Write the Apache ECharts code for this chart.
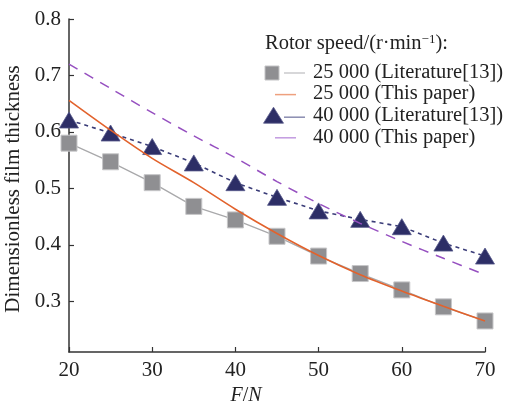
<!DOCTYPE html>
<html>
<head>
<meta charset="utf-8">
<script src="https://cdn.jsdelivr.net/npm/echarts@6/dist/echarts.min.js"></script>
<style>
  html, body { margin: 0; padding: 0; background: #fff; overflow: hidden; }
  #chart { width: 512px; height: 403px; }
</style>
</head>
<body>
<div id="chart"></div>
<script>
// Applied load F (N)
const loads = [20, 25, 30, 35, 40, 45, 50, 55, 60, 65, 70];

// Dimensionless film thickness for each rotor speed
const lit25000 = [0.580, 0.547, 0.510, 0.468, 0.444, 0.415, 0.380, 0.349, 0.320, 0.290, 0.265];
const paper25000 = [0.656, 0.603, 0.553, 0.510, 0.463, 0.420, 0.381, 0.347, 0.318, 0.291, 0.265];
const lit40000 = [0.621, 0.598, 0.574, 0.545, 0.510, 0.484, 0.460, 0.445, 0.432, 0.403, 0.380];
const paper40000 = [0.720, 0.677, 0.634, 0.593, 0.554, 0.512, 0.473, 0.438, 0.406, 0.376, 0.347];

// axis ticks
const xTicks = [20, 30, 40, 50, 60, 70];
const yTicks = [0.3, 0.4, 0.5, 0.6, 0.7, 0.8];

const seriesNames = [
  '25 000 (Literature[13])',
  '25 000 (This paper)',
  '40 000 (Literature[13])',
  '40 000 (This paper)'
];

const FONT = '"Liberation Serif", "Times New Roman", serif';
const TXT = '#222';
const C_SQ = '#8f8f92';
const C_SQ_LINE = '#a9a9ab';
const C_TRI = '#2d2e66';
const C_TRI_LINE = '#3a3c78';
const C_ORANGE = '#e2622c';
const C_PURPLE = '#9650c0';

const pairs = arr => loads.map((x, i) => [x, arr[i]]);

const chart = echarts.init(document.getElementById('chart'), null, { renderer: 'canvas' });

// legend block in the upper right
const ly = 45, rowH = 21.6, tx = 313;
const rowY = i => ly + 28 + i * rowH;
const legendItems = [
  { type: 'text', left: 265, top: ly - 12,
    style: {
      text: 'Rotor speed/(r\u00b7min{sup|\u22121}):',
      rich: {
        sup: { fontFamily: FONT, fontSize: 13, fill: TXT, verticalAlign: 'top', padding: [0, 0, 8, 0] }
      },
      font: '20.5px ' + FONT, fill: TXT
    } },
  // row 1: square + grey line
  { type: 'rect', shape: { x: 265, y: rowY(0) - 7, width: 14, height: 14 },
    style: { fill: C_SQ, stroke: '#c4c4c6', lineWidth: 1 } },
  { type: 'line', shape: { x1: 284, y1: rowY(0), x2: 305, y2: rowY(0) },
    style: { stroke: '#bdbdbf', lineWidth: 1.2 } },
  // row 2: orange line
  { type: 'line', shape: { x1: 275, y1: rowY(1), x2: 296, y2: rowY(1) },
    style: { stroke: '#eea07e', lineWidth: 1.5 } },
  // row 3: triangle + navy line
  { type: 'polygon', shape: { points: [[273.5, rowY(2) - 9], [283.5, rowY(2) + 7], [263.5, rowY(2) + 7]] },
    style: { fill: C_TRI, stroke: '#5a5c8c', lineWidth: 0.8 } },
  { type: 'line', shape: { x1: 284, y1: rowY(2) + 1, x2: 305, y2: rowY(2) + 1 },
    style: { stroke: '#8a8cb0', lineWidth: 1.5 } },
  // row 4: purple line
  { type: 'line', shape: { x1: 275, y1: rowY(3), x2: 296, y2: rowY(3) },
    style: { stroke: '#c29ae0', lineWidth: 1.5 } }
];
seriesNames.forEach((n, i) => {
  legendItems.push({ type: 'text', left: tx, top: rowY(i) - 11,
    style: { text: n, font: '20.5px ' + FONT, fill: TXT } });
});

const option = {
  animation: false,
  backgroundColor: '#fff',
  grid: { left: 69, right: 27, top: 19, bottom: 51, containLabel: false, outerBoundsMode: 'none' },
  xAxis: {
    type: 'value',
    min: 20, max: 70,
    name: '{i|F}{n|/}{i|N}',
    nameLocation: 'middle',
    nameGap: 24,
    nameTextStyle: {
      padding: [0, 62, 0, 0],
      rich: {
        i: { fontFamily: FONT, fontSize: 20, fontStyle: 'italic', color: TXT },
        n: { fontFamily: FONT, fontSize: 20, color: TXT }
      }
    },
    axisLine: { lineStyle: { color: '#333', width: 1.5 } },
    axisTick: { inside: true, length: 5, customValues: xTicks, lineStyle: { color: '#333', width: 1.2 } },
    axisLabel: { margin: 8, customValues: xTicks, fontFamily: FONT, fontSize: 21, color: TXT },
    splitLine: { show: false }
  },
  yAxis: {
    type: 'value',
    min: 0.21, max: 0.8,
    name: 'Dimensionless film thickness',
    nameLocation: 'middle',
    nameGap: 42,
    nameTextStyle: { fontFamily: FONT, fontSize: 21, color: TXT, padding: [0, 7, 0, 0] },
    axisLine: { show: true, lineStyle: { color: '#333', width: 1.5 } },
    axisTick: { inside: true, length: 5, customValues: yTicks, lineStyle: { color: '#333', width: 1.2 } },
    axisLabel: {
      margin: 8, customValues: yTicks, fontFamily: FONT, fontSize: 21, color: TXT,
      formatter: v => v.toFixed(1)
    },
    splitLine: { show: false }
  },
  series: [
    {
      name: seriesNames[0], type: 'line', data: pairs(lit25000),
      symbol: 'rect', symbolSize: 16,
      itemStyle: { color: C_SQ, borderColor: '#c6c6c8', borderWidth: 1 },
      lineStyle: { color: C_SQ_LINE, width: 1.3 },
      z: 2
    },
    {
      name: seriesNames[2], type: 'line', data: pairs(lit40000),
      symbol: 'triangle', symbolSize: [19, 16],
      itemStyle: { color: C_TRI, borderColor: '#55578a', borderWidth: 0.8 },
      lineStyle: { color: C_TRI_LINE, width: 1.6, type: [4, 4] },
      z: 2
    },
    {
      name: seriesNames[1], type: 'line', data: pairs(paper25000),
      smooth: 0.3, showSymbol: false, symbol: 'none',
      lineStyle: { color: C_ORANGE, width: 1.6 },
      z: 3
    },
    {
      name: seriesNames[3], type: 'line', data: pairs(paper40000),
      smooth: 0.3, showSymbol: false, symbol: 'none',
      lineStyle: { color: C_PURPLE, width: 1.5, type: [10, 8] },
      z: 3
    }
  ],
  graphic: legendItems
};

chart.setOption(option);
</script>
</body>
</html>
